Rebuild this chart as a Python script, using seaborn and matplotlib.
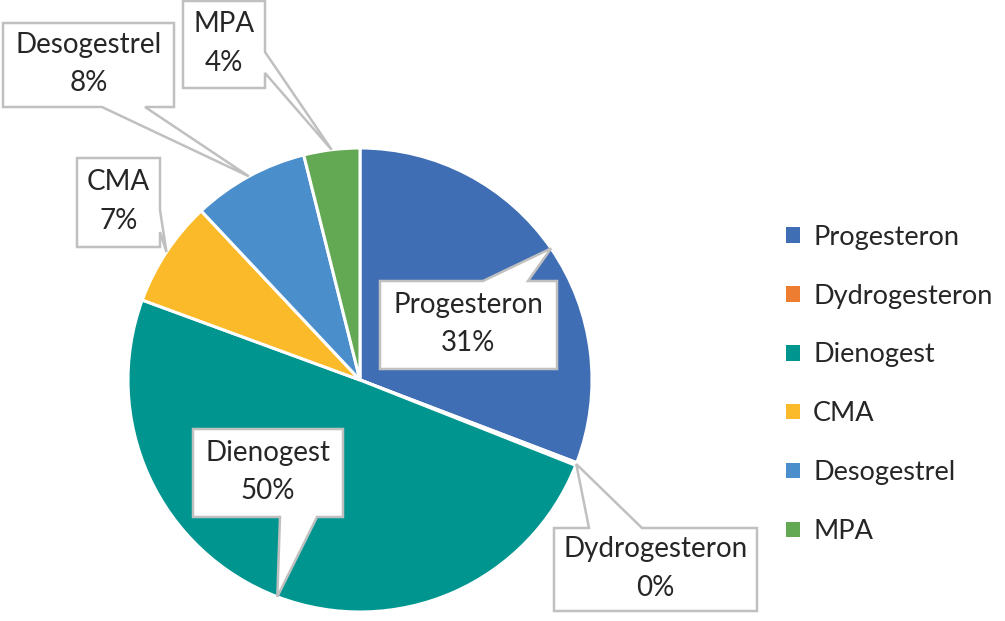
import matplotlib
matplotlib.use("Agg")

import seaborn as sns
import matplotlib.pyplot as plt
from matplotlib.patches import Polygon
import numpy as np

# ===============================
# data
# ===============================
labels = ['Progesteron', 'Dydrogesteron', 'Dienogest', 'CMA', 'Desogestrel', 'MPA']
shares = [30.8, 0.2, 49.6, 7.4, 8.1, 3.9]
colors = ['#3F6EB4', '#ED7D31', '#00958F', '#FBBA29', '#4A8FCB', '#63A954']

sns.set_theme(style='white')
plt.rcParams['font.family'] = ['Lato', 'DejaVu Sans']

W, H = 1005, 621
fig = plt.figure(figsize=(W / 100, H / 100), dpi=100)
ax = fig.add_axes([0, 0, 1, 1])

cx, cy, r = 360, 380, 232
wedges, _ = ax.pie(
    shares,
    colors=colors,
    startangle=90,
    counterclock=False,
    center=(cx, H - cy),
    radius=r,
    wedgeprops=dict(edgecolor='white', linewidth=2.2),
)
ax.set_xlim(0, W)
ax.set_ylim(0, H)
ax.set_aspect('equal')
ax.axis('off')

# ===============================
# callouts (box in pixel coords, y down)
# ===============================
boxes = {
    'Progesteron': ((380, 281, 557, 369), 'top', (483, 528)),
    'Dydrogesteron': ((554, 528, 757, 611), 'top', (589, 642)),
    'Dienogest': ((193, 429, 343, 517), 'bottom', (280, 317)),
    'CMA': ((77, 158, 160, 247), 'right', (210, 232)),
    'Desogestrel': ((3, 23, 174, 107), 'bottom', (102, 145)),
    'MPA': ((183, 1, 265, 88), 'right', (52, 73)),
}


def callout(box, side, base, tip, text):
    x0, y0, x1, y1 = box
    b0, b1 = base
    pts = [(x0, y0)]
    if side == 'top':
        pts += [(b0, y0), tip, (b1, y0)]
    pts.append((x1, y0))
    if side == 'right':
        pts += [(x1, b0), tip, (x1, b1)]
    pts.append((x1, y1))
    if side == 'bottom':
        pts += [(b1, y1), tip, (b0, y1)]
    pts.append((x0, y1))
    pts = [(px, H - py) for px, py in pts]
    ax.add_patch(Polygon(pts, closed=True, facecolor='white', edgecolor='#C0C0C0',
                         linewidth=1.8, joinstyle='miter', zorder=5))
    ax.text((x0 + x1) / 2, H - (y0 + y1) / 2 + 1, text, ha='center', va='center',
            fontsize=20, color='#262626', linespacing=1.6, zorder=6)


total = sum(shares)
for w, lab, val in zip(wedges, labels, shares):
    mid = np.deg2rad((w.theta1 + w.theta2) / 2)
    tip = (cx + r * np.cos(mid), cy - r * np.sin(mid))
    box, side, base = boxes[lab]
    callout(box, side, base, tip, f'{lab}\n{val / total * 100:.0f}%')

# ===============================
# legend
# ===============================
leg = ax.legend(
    wedges, labels,
    loc='center left',
    bbox_to_anchor=(0.758, 0.381),
    frameon=False,
    fontsize=19.5,
    handlelength=0.5,
    handleheight=0.5,
    handletextpad=0.5,
    labelspacing=1.25,
    labelcolor='#262626',
)
for h in leg.legend_handles:
    h.set_edgecolor('none')

plt.savefig('out.png', dpi=100)
plt.close()
